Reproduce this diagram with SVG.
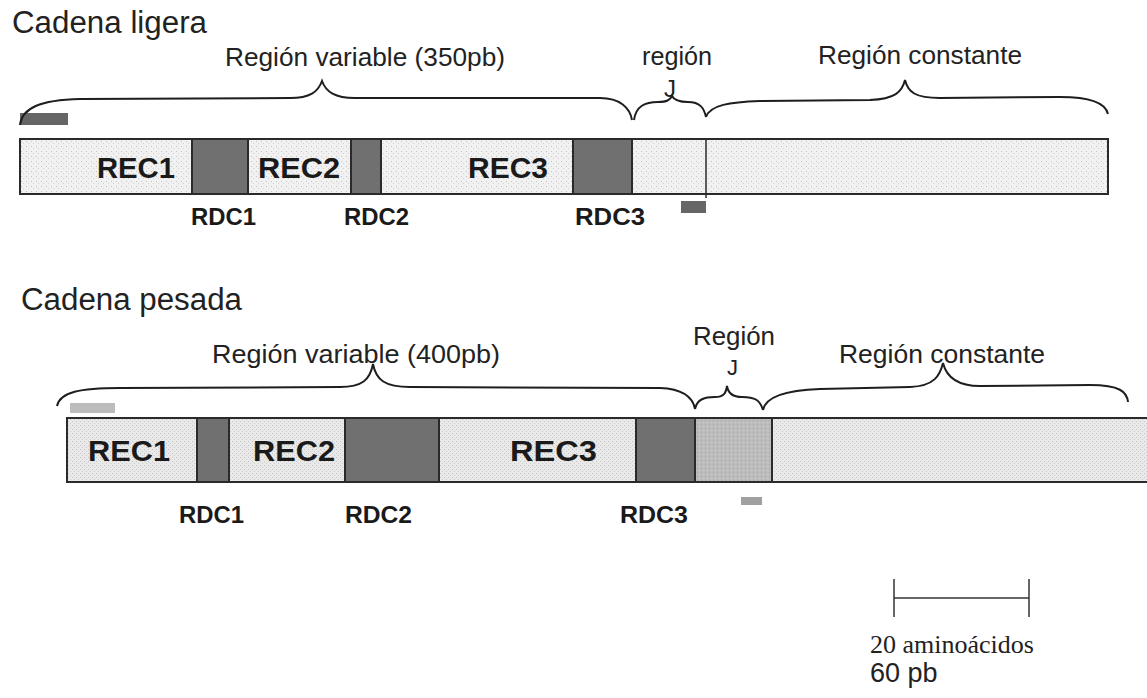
<svg xmlns="http://www.w3.org/2000/svg" width="1147" height="698" viewBox="0 0 1147 698">
<defs>
<pattern id="stip" width="5" height="5" patternUnits="userSpaceOnUse">
<rect width="5" height="5" fill="#f1f1f1"/>
<rect x="1" y="1" width="1" height="1" fill="#c4c4c4"/>
<rect x="3" y="3" width="1" height="1" fill="#d2d2d2"/>
</pattern>
<pattern id="stip2" width="4" height="4" patternUnits="userSpaceOnUse">
<rect width="4" height="4" fill="#e9e9e9"/>
<rect x="0" y="1" width="1" height="1" fill="#c4c4c4"/>
<rect x="2" y="3" width="1" height="1" fill="#cdcdcd"/>
</pattern>
<pattern id="stip3" width="4" height="4" patternUnits="userSpaceOnUse">
<rect width="4" height="4" fill="#bdbdbd"/>
<rect x="1" y="0" width="1" height="1" fill="#a4a4a4"/>
<rect x="3" y="2" width="1" height="1" fill="#cbcbcb"/>
</pattern>
</defs>
<style>
.seg{stroke:#2a2a2a;stroke-width:2}
.lt{fill:url(#stip)}
.lt2{fill:url(#stip2)}
.dk{fill:#707070}
.md{fill:url(#stip3)}
.brace{fill:none;stroke:#1e1e1e;stroke-width:2}
.t{font-family:"Liberation Sans",Arial,sans-serif;fill:#222}
.b{font-family:"Liberation Sans",Arial,sans-serif;font-weight:bold;fill:#1a1a1a}
.s{font-family:"Liberation Serif","Times New Roman",serif;fill:#222}
</style>
<rect width="1147" height="698" fill="#ffffff"/>

<g id="titles">
<text class="t" x="12" y="33" font-size="31" textLength="195" lengthAdjust="spacingAndGlyphs">Cadena ligera</text>
<text class="t" x="21" y="310" font-size="31" textLength="221" lengthAdjust="spacingAndGlyphs">Cadena pesada</text>
</g>

<g id="light-chain">
<rect class="seg lt" x="20" y="139" width="172" height="55"/>
<rect class="seg dk" x="192" y="139" width="56" height="55"/>
<rect class="seg lt" x="248" y="139" width="103" height="55"/>
<rect class="seg dk" x="351" y="139" width="30" height="55"/>
<rect class="seg lt" x="381" y="139" width="192" height="55"/>
<rect class="seg dk" x="573" y="139" width="59" height="55"/>
<rect class="seg lt" x="632" y="139" width="476" height="55"/>
<line x1="706" y1="139" x2="706" y2="198" stroke="#2a2a2a" stroke-width="1.5"/>
<rect x="20" y="113" width="48" height="12" fill="#666"/>
<rect x="681" y="201" width="25" height="12" fill="#666"/>
<text class="b" x="97" y="178" font-size="29" textLength="78" lengthAdjust="spacingAndGlyphs">REC1</text>
<text class="b" x="258" y="178" font-size="29" textLength="82" lengthAdjust="spacingAndGlyphs">REC2</text>
<text class="b" x="468" y="178" font-size="29" textLength="80" lengthAdjust="spacingAndGlyphs">REC3</text>
<text class="b" x="191" y="225" font-size="23" textLength="65" lengthAdjust="spacingAndGlyphs">RDC1</text>
<text class="b" x="344" y="225" font-size="23" textLength="65" lengthAdjust="spacingAndGlyphs">RDC2</text>
<text class="b" x="575" y="225" font-size="23" textLength="70" lengthAdjust="spacingAndGlyphs">RDC3</text>
<text class="t" x="225" y="66" font-size="26" textLength="280" lengthAdjust="spacingAndGlyphs">Región variable (350pb)</text>
<text class="t" x="642" y="65" font-size="26" textLength="70" lengthAdjust="spacingAndGlyphs">región</text>
<text class="t" x="664" y="97" font-size="24">J</text>
<text class="t" x="818" y="64" font-size="26" textLength="204" lengthAdjust="spacingAndGlyphs">Región constante</text>
</g>

<g id="heavy-chain">
<rect class="seg lt2" x="67" y="418" width="130" height="64"/>
<rect class="seg dk" x="197" y="418" width="32" height="64"/>
<rect class="seg lt2" x="229" y="418" width="116" height="64"/>
<rect class="seg dk" x="345" y="418" width="94" height="64"/>
<rect class="seg lt2" x="439" y="418" width="197" height="64"/>
<rect class="seg dk" x="636" y="418" width="59" height="64"/>
<rect class="seg md" x="695" y="418" width="77" height="64"/>
<rect class="seg lt2" x="772" y="418" width="390" height="64"/>
<rect x="70" y="403" width="45" height="10" fill="#bcbcbc"/>
<rect x="741" y="497" width="21" height="8" fill="#a0a0a0"/>
<text class="b" x="88" y="461" font-size="29" textLength="82" lengthAdjust="spacingAndGlyphs">REC1</text>
<text class="b" x="253" y="461" font-size="29" textLength="82" lengthAdjust="spacingAndGlyphs">REC2</text>
<text class="b" x="510" y="461" font-size="29" textLength="87" lengthAdjust="spacingAndGlyphs">REC3</text>
<text class="b" x="179" y="523" font-size="23" textLength="65" lengthAdjust="spacingAndGlyphs">RDC1</text>
<text class="b" x="345" y="523" font-size="23" textLength="67" lengthAdjust="spacingAndGlyphs">RDC2</text>
<text class="b" x="620" y="523" font-size="23" textLength="68" lengthAdjust="spacingAndGlyphs">RDC3</text>
<text class="t" x="212" y="363" font-size="26" textLength="288" lengthAdjust="spacingAndGlyphs">Región variable  (400pb)</text>
<text class="t" x="693" y="345" font-size="26" textLength="82" lengthAdjust="spacingAndGlyphs">Región</text>
<text class="t" x="727" y="375" font-size="22">J</text>
<text class="t" x="839" y="363" font-size="26" textLength="206" lengthAdjust="spacingAndGlyphs">Región constante</text>
</g>

<g id="connectors">
<path class="brace" d="M20,125 C22,108 40,100 80,99 L290,98 C310,98 318,92 322,81 C326,92 335,98 355,98 L600,98 C620,98 630,108 632,120"/>
<path class="brace" d="M634,120 C636,106 645,102 658,102 C667,102 670,100 672,96 C674,100 678,102 688,102 C700,102 704,108 706,117"/>
<path class="brace" d="M706,117 C710,105 730,102 760,101 L870,100 C895,99 902,92 905,80 C908,92 915,98 940,98 L1060,97 C1095,97 1106,105 1108,114"/>
<path class="brace" d="M57,406 C60,392 80,388 120,388 L340,387 C362,387 370,380 373,364 C376,380 385,387 410,387 L660,388 C685,389 693,398 695,409"/>
<path class="brace" d="M695,409 C697,399 705,397 715,397 C724,397 726,393 727,386 C728,393 732,397 742,397 C755,397 760,400 763,410"/>
<path class="brace" d="M763,410 C766,395 790,390 820,389 L910,387 C935,386 940,375 943,363 C946,375 955,386 980,386 L1090,385 C1120,385 1127,392 1128,402"/>
</g>

<g id="scale-bar">
<line x1="894" y1="579" x2="894" y2="617" stroke="#333" stroke-width="1.5"/>
<line x1="1029" y1="579" x2="1029" y2="617" stroke="#333" stroke-width="1.5"/>
<line x1="894" y1="598" x2="1029" y2="598" stroke="#333" stroke-width="1.5"/>
<text class="s" x="870" y="653" font-size="26">20 aminoácidos</text>
<text class="t" x="870" y="682" font-size="27">60 pb</text>
</g>
</svg>
